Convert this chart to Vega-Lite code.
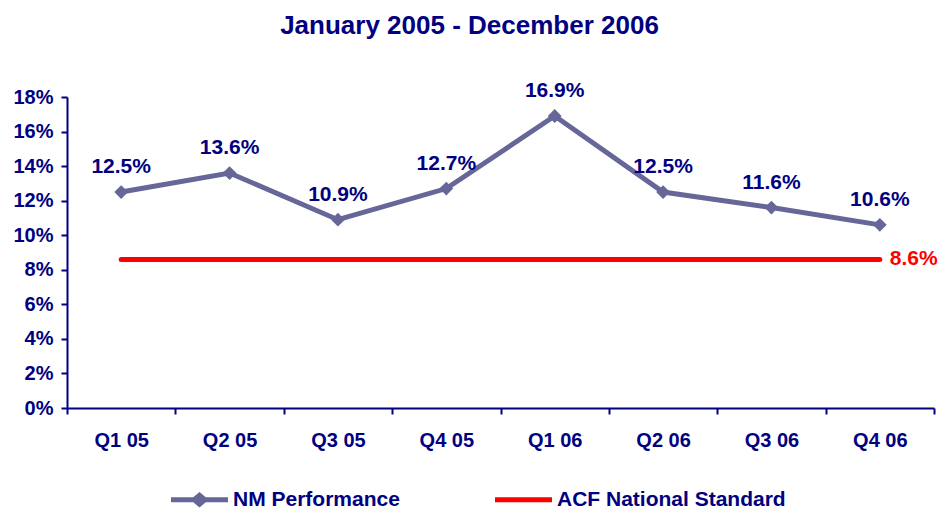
{
  "$schema": "https://vega.github.io/schema/vega-lite/v6.json",
  "width": 867,
  "height": 311,
  "autosize": "none",
  "padding": {"left": 67, "top": 97, "right": 8, "bottom": 102},
  "background": "white",
  "title": {
    "text": "January 2005 - December 2006",
    "font": "Liberation Sans",
    "fontSize": 26,
    "fontWeight": "bold",
    "color": "#000080",
    "anchor": "middle",
    "dx": -31,
    "offset": 41
  },
  "config": {"view": {"stroke": null}, "font": "Liberation Sans"},
  "data": {
    "values": [
      {"quarter": "Q1 05", "series": "NM Performance", "value": 0.125},
      {"quarter": "Q2 05", "series": "NM Performance", "value": 0.136},
      {"quarter": "Q3 05", "series": "NM Performance", "value": 0.109},
      {"quarter": "Q4 05", "series": "NM Performance", "value": 0.127},
      {"quarter": "Q1 06", "series": "NM Performance", "value": 0.169},
      {"quarter": "Q2 06", "series": "NM Performance", "value": 0.125},
      {"quarter": "Q3 06", "series": "NM Performance", "value": 0.116},
      {"quarter": "Q4 06", "series": "NM Performance", "value": 0.106},
      {"quarter": "Q1 05", "series": "ACF National Standard", "value": 0.086},
      {"quarter": "Q2 05", "series": "ACF National Standard", "value": 0.086},
      {"quarter": "Q3 05", "series": "ACF National Standard", "value": 0.086},
      {"quarter": "Q4 05", "series": "ACF National Standard", "value": 0.086},
      {"quarter": "Q1 06", "series": "ACF National Standard", "value": 0.086},
      {"quarter": "Q2 06", "series": "ACF National Standard", "value": 0.086},
      {"quarter": "Q3 06", "series": "ACF National Standard", "value": 0.086},
      {"quarter": "Q4 06", "series": "ACF National Standard", "value": 0.086}
    ]
  },
  "encoding": {
    "x": {
      "field": "quarter",
      "type": "ordinal",
      "sort": ["Q1 05", "Q2 05", "Q3 05", "Q4 05", "Q1 06", "Q2 06", "Q3 06", "Q4 06"],
      "scale": {"type": "band", "paddingInner": 0, "paddingOuter": 0},
      "bandPosition": 0.5,
      "axis": {
        "title": null,
        "labelAngle": 0,
        "domainColor": "#000080",
        "domainWidth": 2,
        "tickColor": "#000080",
        "tickWidth": 2,
        "tickSize": 6,
        "tickBand": "extent",
        "labelFont": "Liberation Sans",
        "labelFontSize": 20,
        "labelFontWeight": "bold",
        "labelColor": "#000080",
        "labelPadding": 16
      }
    },
    "y": {
      "field": "value",
      "type": "quantitative",
      "scale": {"domain": [0, 0.18], "nice": false, "zero": true},
      "axis": {
        "title": null,
        "values": [0, 0.02, 0.04, 0.06, 0.08, 0.1, 0.12, 0.14, 0.16, 0.18],
        "format": ".0%",
        "grid": false,
        "domainColor": "#000080",
        "domainWidth": 2,
        "tickColor": "#000080",
        "tickWidth": 2,
        "tickSize": 6,
        "labelFont": "Liberation Sans",
        "labelFontSize": 20,
        "labelFontWeight": "bold",
        "labelColor": "#000080",
        "labelPadding": 8
      }
    }
  },
  "layer": [
    {
      "mark": {"type": "line", "strokeWidth": 5, "strokeCap": "round", "strokeJoin": "miter"},
      "encoding": {
        "color": {
          "field": "series",
          "type": "nominal",
          "scale": {"domain": ["NM Performance", "ACF National Standard"], "range": ["#666699", "#FF0000"]},
          "legend": {
            "title": null,
            "orient": "none",
            "legendX": 104,
            "legendY": 374,
            "direction": "horizontal",
            "padding": 0,
            "symbolSize": 3249,
            "labelFont": "Liberation Sans",
            "labelFontSize": 21,
            "labelFontWeight": "bold",
            "labelColor": "#000080",
            "labelOffset": 5,
            "labelLimit": 400,
            "columnPadding": 95,
            "encode": {
              "symbols": {
                "update": {
                  "shape": {"signal": "datum.value === 'NM Performance' ? 'M-1,-0.09L-0.22,-0.09L0,-0.27L0.22,-0.09L1,-0.09L1,0.09L0.22,0.09L0,0.27L-0.22,0.09L-1,0.09Z' : 'M-1,-0.09L1,-0.09L1,0.09L-1,0.09Z'"},
                  "fill": {"signal": "scale('color', datum.value)"},
                  "fillOpacity": {"value": 1},
                  "strokeWidth": {"value": 0}
                }
              }
            }
          }
        }
      }
    },
    {
      "transform": [{"filter": "datum.series === 'NM Performance'"}],
      "mark": {"type": "point", "shape": "diamond", "filled": true, "size": 190, "color": "#666699", "opacity": 1}
    },
    {
      "transform": [{"filter": "datum.series === 'NM Performance'"}],
      "mark": {"type": "text", "dy": -25, "font": "Liberation Sans", "fontSize": 21, "fontWeight": "bold", "color": "#000080"},
      "encoding": {"text": {"field": "value", "type": "quantitative", "format": ".1%"}}
    },
    {
      "transform": [{"filter": "datum.series === 'ACF National Standard' && datum.quarter === 'Q4 06'"}],
      "mark": {"type": "text", "align": "left", "dx": 10, "font": "Liberation Sans", "fontSize": 21, "fontWeight": "bold", "color": "#FF0000"},
      "encoding": {"text": {"field": "value", "type": "quantitative", "format": ".1%"}}
    }
  ]
}
